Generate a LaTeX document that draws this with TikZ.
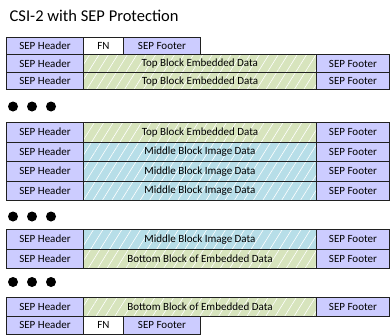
\documentclass[tikz,border=0pt]{standalone}
\usepackage{fontspec}
\setmainfont{Carlito}
\usetikzlibrary{patterns.meta}
\definecolor{hdrc}{HTML}{CCCCFF}
\definecolor{grnc}{HTML}{D7E4BD}
\definecolor{bluc}{HTML}{B7DEE8}
\definecolor{bordc}{HTML}{202020}
\tikzset{
  cell/.style={draw=bordc, line width=0.9pt, inner sep=0pt, anchor=north west,
    font=\fontsize{11}{12}\selectfont, text=black},
  hdr/.style={cell, fill=hdrc, minimum width=77pt},
  ftr/.style={cell, fill=hdrc, minimum width=73pt},
  fnbox/.style={cell, fill=white, minimum width=40pt},
  sftr/.style={cell, fill=hdrc, minimum width=77pt},
  grn/.style={cell, minimum width=233pt, preaction={fill=grnc},
    pattern={Lines[angle=58,distance=8pt,line width=0.6pt]}, pattern color=white},
  blu/.style={cell, minimum width=233pt, preaction={fill=bluc},
    pattern={Lines[angle=58,distance=8pt,line width=0.6pt]}, pattern color=white},
  dotn/.style={circle, fill=black, inner sep=0pt, minimum size=10pt},
}
\newcommand{\datarow}[5]{%
  \node[hdr, minimum height=#3pt] (#1h) at (6,#2) {SEP Header};
  \node[#4, minimum height=#3pt] (#1d) at (83,#2) {#5};
  \node[ftr, minimum height=#3pt] (#1f) at (316,#2) {SEP Footer};}
\newcommand{\fnrow}[3]{%
  \node[hdr, minimum height=#3pt] (#1h) at (6,#2) {SEP Header};
  \node[fnbox, minimum height=#3pt] (#1n) at (83,#2) {FN};
  \node[sftr, minimum height=#3pt] (#1f) at (123,#2) {SEP Footer};}
\newcommand{\dotsrow}[2]{%
  \node[dotn] (#1a) at (13,#2) {};
  \node[dotn] (#1b) at (32,#2) {};
  \node[dotn] (#1c) at (51,#2) {};}
\begin{document}
\begin{tikzpicture}[x=1pt,y=-1pt]
\useasboundingbox (0,0) rectangle (390,334);
\node[anchor=base west, font=\fontsize{16.5}{19}\selectfont, inner sep=0pt] (title) at (9.5,21.5) {CSI-2 with SEP Protection};
\fnrow{r1}{37}{17.5}
\datarow{r2}{54.5}{17.5}{grn}{Top Block Embedded Data}
\datarow{r3}{72}{17.5}{grn}{Top Block Embedded Data}
\dotsrow{da}{106.5}
\datarow{r4}{122}{19.5}{grn}{Top Block Embedded Data}
\datarow{r5}{141.5}{19.5}{blu}{Middle Block Image Data}
\datarow{r6}{161}{19.5}{blu}{Middle Block Image Data}
\datarow{r7}{180.5}{19.5}{blu}{Middle Block Image Data}
\dotsrow{db}{216.5}
\datarow{r8}{229}{19.5}{blu}{Middle Block Image Data}
\datarow{r9}{248.5}{19.5}{grn}{Bottom Block of Embedded Data}
\dotsrow{dc}{282}
\datarow{r10}{297}{18.5}{grn}{Bottom Block of Embedded Data}
\fnrow{r11}{315.5}{18}
\end{tikzpicture}
\end{document}
